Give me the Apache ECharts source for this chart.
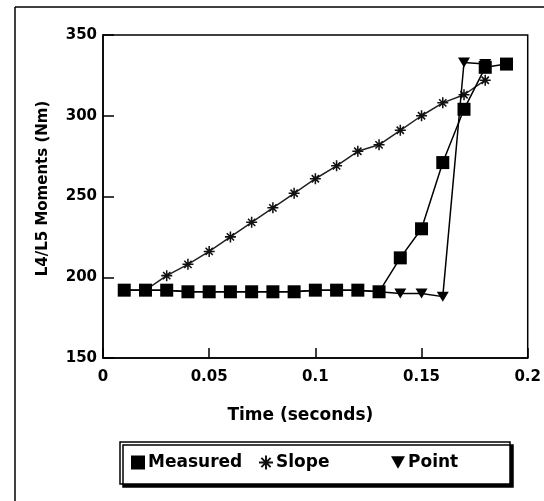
<!DOCTYPE html>
<html>
<head>
<meta charset="utf-8">
<script src="https://cdn.jsdelivr.net/npm/echarts@6/dist/echarts.min.js"></script>
<style>
html,body{margin:0;padding:0;background:#fff;}
#chart{width:544px;height:501px;}
</style>
</head>
<body>
<div id="chart"></div>
<script>
// ---- data ----
const times = [0.01,0.02,0.03,0.04,0.05,0.06,0.07,0.08,0.09,0.10,0.11,0.12,0.13,0.14,0.15,0.16,0.17,0.18,0.19];
const measured = [192,192,192,191,191,191,191,191,191,192,192,192,191,212,230,271,304,330,332];
const slope = [192,192,201,208,216,225,234,243,252,261,269,278,282,291,300,308,313,322];
const point = [192,192,192,191,191,191,191,191,191,192,192,192,191,190,190,188,333,332];
const xTicks = [0, 0.05, 0.1, 0.15, 0.2];
const yTicks = [150, 200, 250, 300, 350];
const seriesNames = ['Measured', 'Slope', 'Point'];
const xTitle = 'Time (seconds)';
const yTitle = 'L4/L5 Moments (Nm)';

function pairs(vals){ return vals.map((v,i)=>[times[i], v]); }

const starPath = 'path://M-0.7,-5L0.7,-5L0.7,5L-0.7,5Z M-5,-0.7L5,-0.7L5,0.7L-5,0.7Z M-3.8,-2.8L-2.8,-3.8L3.8,2.8L2.8,3.8Z M2.8,-3.8L3.8,-2.8L-2.8,3.8L-3.8,2.8Z';
const triPath = 'path://M0,0L10,0L5,9Z';
const FONT = 'DejaVu Sans';
const legendIcons = ['rect', starPath, triPath];
const legendLefts = [131, 259, 391];

function makeLegend(i){
  return {
    left:legendLefts[i], top:454, padding:0,
    itemWidth:14, itemHeight:14,
    textStyle:{fontFamily:FONT, fontWeight:'bold', fontSize:17, color:'#000', padding:[0,0,0,-2]},
    data:[{name:seriesNames[i], icon:legendIcons[i]}]
  };
}

const chart = echarts.init(document.getElementById('chart'), null, {renderer:'canvas'});
chart.setOption({
  backgroundColor: '#fff',
  animation: false,
  graphic: [
    {type:'line', shape:{x1:15, y1:7, x2:544, y2:7}, style:{stroke:'#000', lineWidth:1.5}},
    {type:'line', shape:{x1:15, y1:7, x2:15, y2:501}, style:{stroke:'#000', lineWidth:1.5}},
    {type:'rect', shape:{x:120, y:442, width:390, height:42},
      style:{fill:'#fff', stroke:'#000', lineWidth:1.5, shadowColor:'#000', shadowBlur:0, shadowOffsetX:3, shadowOffsetY:3}}
  ],
  grid: {left:103, right:14, top:35, bottom:143, show:true, borderColor:'#000', borderWidth:1.5, backgroundColor:'transparent'},
  xAxis: {
    type:'value', min:xTicks[0], max:xTicks[xTicks.length-1], interval:0.05,
    name:xTitle, nameLocation:'middle', nameGap:49,
    nameTextStyle:{fontFamily:FONT, fontWeight:'bold', fontSize:17, color:'#000', padding:[0,30,0,0]},
    axisLine:{lineStyle:{color:'#000', width:1.5}},
    axisTick:{inside:true, length:10, lineStyle:{color:'#000', width:1.5}},
    axisLabel:{margin:12, fontFamily:FONT, fontWeight:'bold', fontSize:15, color:'#000',
      formatter: v => String(xTicks.find(t => Math.abs(t - v) < 1e-9) ?? v)},
    splitLine:{show:false}
  },
  yAxis: {
    type:'value', min:yTicks[0], max:yTicks[yTicks.length-1], interval:50,
    name:yTitle, nameLocation:'middle', nameGap:52, nameRotate:90,
    nameTextStyle:{fontFamily:FONT, fontWeight:'bold', fontSize:15, color:'#000', padding:[0,0,0,16]},
    axisLine:{show:true, lineStyle:{color:'#000', width:1.5}},
    axisTick:{show:true, inside:true, length:11, lineStyle:{color:'#000', width:1.5}},
    axisLabel:{margin:6, fontFamily:FONT, fontWeight:'bold', fontSize:15, color:'#000'},
    splitLine:{show:false}
  },
  legend: [makeLegend(0), makeLegend(1), makeLegend(2)],
  series: [
    {
      name:seriesNames[1], type:'line', data:pairs(slope),
      symbol:starPath, symbolSize:11, showAllSymbol:true,
      lineStyle:{color:'#222', width:1.5},
      itemStyle:{color:'#111'},
      z:2
    },
    {
      name:seriesNames[2], type:'line', data:pairs(point),
      symbol:'triangle', symbolRotate:180, symbolSize:[12,10], showAllSymbol:true,
      lineStyle:{color:'#000', width:1.5},
      itemStyle:{color:'#000'},
      z:3
    },
    {
      name:seriesNames[0], type:'line', data:pairs(measured),
      symbol:'rect', symbolSize:13, showAllSymbol:true,
      lineStyle:{color:'#000', width:1.5},
      itemStyle:{color:'#000'},
      z:4
    }
  ]
});
</script>
</body>
</html>
